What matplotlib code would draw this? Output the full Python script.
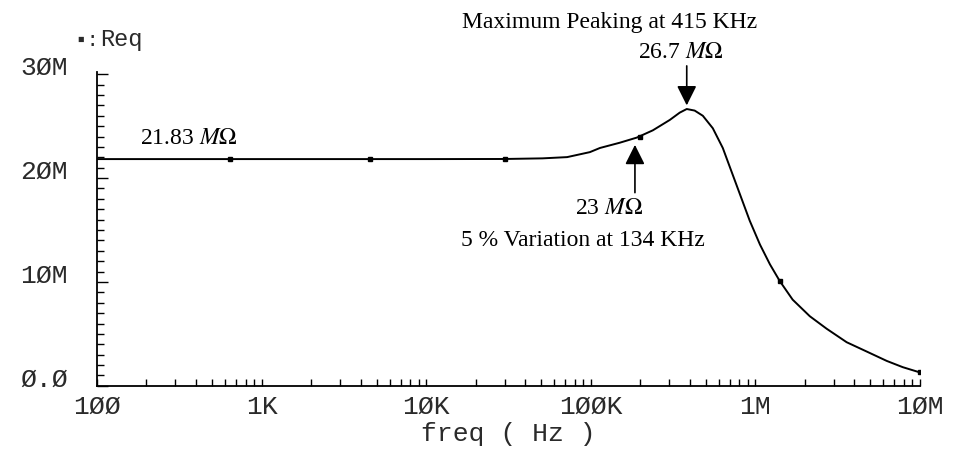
import numpy as np
import matplotlib
matplotlib.use("Agg")
import matplotlib.pyplot as plt
from matplotlib.ticker import FixedLocator, NullFormatter

# Data (freq in Hz, Req in MOhm)
freq = [100, 1e3, 1e4, 3e4, 5.1e4, 7.2e4, 9.9e4,
        1.14e5, 1.5e5, 1.91e5, 2.39e5, 3.03e5, 3.48e5, 3.84e5, 4.29e5,
        4.81e5, 5.53e5, 6.36e5, 6.82e5,
        8.06e5, 9.27e5, 1.07e6, 1.23e6, 1.41e6, 1.69e6, 2.15e6, 2.72e6,
        3.6e6, 4.77e6, 6.31e6, 7.89e6, 1e7]
req = [21.83, 21.83, 21.83, 21.84, 21.9, 22.02, 22.5,
       22.9, 23.4, 23.9, 24.6, 25.6, 26.3, 26.65, 26.5,
       26.0, 24.8, 22.9, 21.6,
       18.5, 15.9, 13.6, 11.7, 10.1, 8.3, 6.7, 5.5,
       4.2, 3.3, 2.4, 1.8, 1.3]

marker_freq = [643, 4.56e3, 3.01e4, 1.99e5, 1.41e6, 1e7]
marker_req = [21.83, 21.83, 21.84, 24.0, 10.1, 1.3]

xticks = [1e2, 1e3, 1e4, 1e5, 1e6, 1e7]
xticklabels = ["1ØØ", "1K", "1ØK", "1ØØK", "1M", "1ØM"]
yticks = [0, 10, 20, 30]
yticklabels = ["Ø.Ø", "1ØM", "2ØM", "3ØM"]

plt.rcParams["mathtext.fontset"] = "stix"
mono = "Liberation Mono"
grey = "#2a2a2a"

fig = plt.figure(figsize=(9.6, 4.6), dpi=100)
ax = fig.add_axes([0.101, 0.159, 0.857, 0.682])

ax.plot(freq, req, color="black", lw=1.4)
ax.plot(marker_freq, marker_req, ls="none", marker="s", ms=3, color="black")

ax.set_xscale("log")
ax.set_xlim(100, 1e7)
ax.set_ylim(0, 30.2)

for s in ["top", "right"]:
    ax.spines[s].set_visible(False)
for s in ["left", "bottom"]:
    ax.spines[s].set_linewidth(1.3)

ax.set_xticks(xticks)
ax.set_xticklabels(xticklabels, family=mono)
ax.xaxis.set_minor_locator(FixedLocator(
    [m * d for d in xticks[:-1] for m in range(2, 10)]))
ax.xaxis.set_minor_formatter(NullFormatter())
ax.set_yticks(yticks)
ax.set_yticklabels(yticklabels, family=mono)
ax.yaxis.set_minor_locator(FixedLocator(np.arange(0, 31, 1)))

ax.tick_params(axis="both", which="both", direction="in", color="black",
               width=1, labelsize=19, labelcolor=grey)
ax.tick_params(axis="x", which="both", length=5, pad=6)
ax.tick_params(axis="y", which="major", length=8, pad=21)
ax.tick_params(axis="y", which="minor", length=5)
for lab in ax.get_yticklabels():
    lab.set_verticalalignment("baseline")

ax.set_xlabel("freq ( Hz )", fontsize=19, family=mono, color=grey, labelpad=2)

# legend-like label at top left
fig.text(0.077, 0.912, "▪:", fontsize=15, family=mono, color=grey, va="center")
fig.text(0.104, 0.915, "Req", fontsize=17, family=mono, color=grey, va="center")

serif = dict(family="Liberation Serif", fontsize=17, color="black",
             ha="center", va="center")
fig.text(0.635, 0.952, "Maximum Peaking at 415 KHz", **serif)
fig.text(0.709, 0.885, r"26.7 $M\Omega$", **serif)
fig.text(0.634, 0.546, r"23 $M\Omega$", **serif)
fig.text(0.607, 0.478, "5 % Variation at 134 KHz", **serif)
fig.text(0.197, 0.698, r"21.83 $M\Omega$", **serif)

ax.annotate("", xy=(3.84e5, 27.0), xytext=(3.84e5, 30.8),
            annotation_clip=False,
            arrowprops=dict(arrowstyle="-|>", color="black", lw=1.2,
                            mutation_scale=30, shrinkA=0, shrinkB=0))
ax.annotate("", xy=(1.86e5, 23.2), xytext=(1.86e5, 18.6),
            arrowprops=dict(arrowstyle="-|>", color="black", lw=1.2,
                            mutation_scale=30, shrinkA=0, shrinkB=0))

fig.savefig("out.png", dpi=100, facecolor="white")
